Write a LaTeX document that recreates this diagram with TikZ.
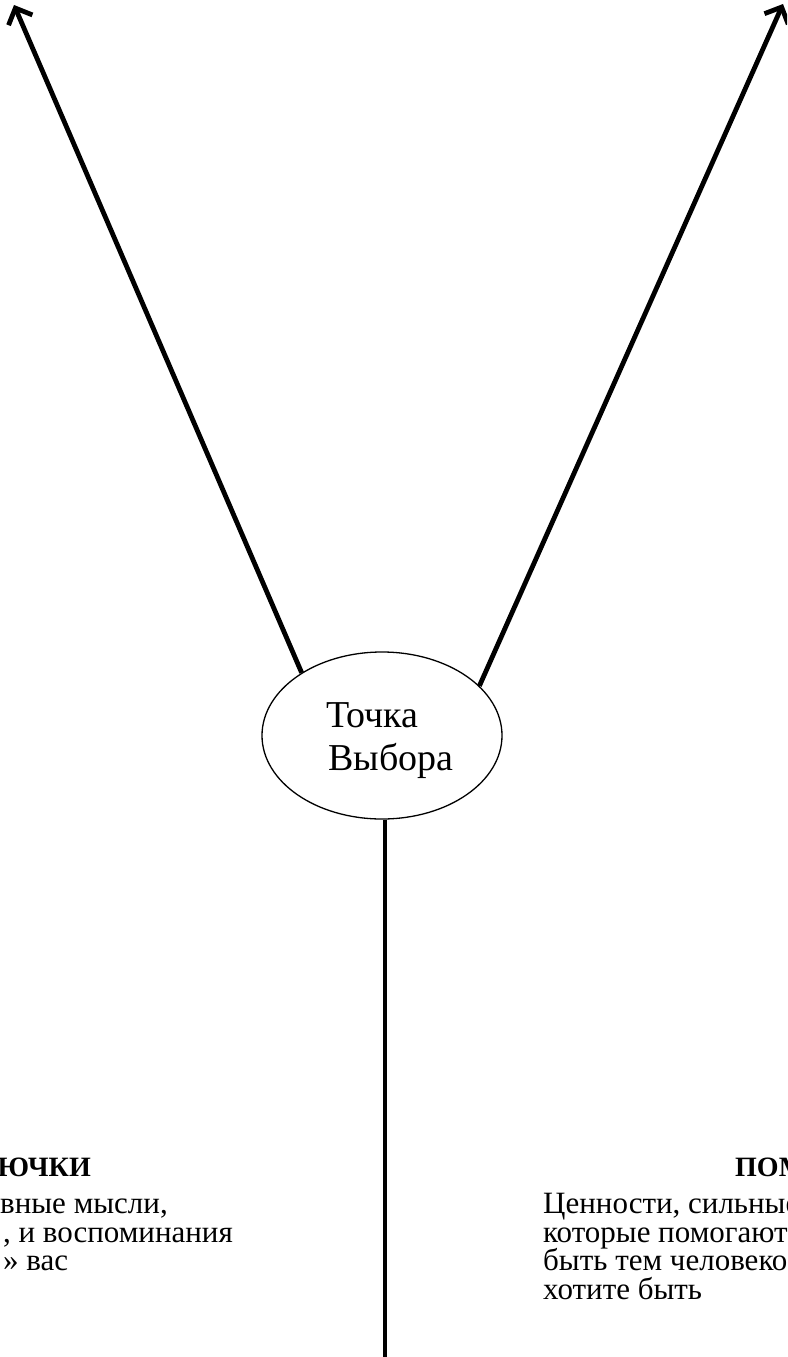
\documentclass[tikz,border=0pt]{standalone}
\usepackage{fontspec}
\setmainfont{Liberation Serif}
\usetikzlibrary{shapes.geometric,arrows.meta}

\tikzset{
  choicebox/.style={draw=black, line width=1.3pt, ellipse, inner sep=0pt,
    minimum width=240pt, minimum height=167pt},
  branch/.style={line width=4.8pt, black,
    -{Straight Barb[length=13pt,width=26pt,line width=4.8pt]}},
  trunk/.style={line width=4.8pt, black},
  bigtxt/.style={inner sep=0pt, font=\fontsize{38}{43}\selectfont},
  headtxt/.style={inner sep=0pt, font=\fontsize{28}{28}\selectfont\bfseries},
  bodytxt/.style={inner sep=0pt, font=\fontsize{31}{29}\selectfont}
}

\begin{document}
\begin{tikzpicture}[x=1pt,y=-1pt]
  \useasboundingbox (0,0) rectangle (787,1357);
  \clip (0,0) rectangle (787,1357);
  \fill[white] (0,0) rectangle (787,1357);

  % choice point
  \node[choicebox] (choice) at (382,735.5) {};
  \node[bigtxt, anchor=base west] (t1) at (326,727) {Точка};
  \node[bigtxt, anchor=base west] (t2) at (328,770) {Выбора};

  % end points of the branches
  \coordinate (tipL) at (14,5);
  \coordinate (tipR) at (783,4);
  \coordinate (root) at (385,1360);

  \draw[branch] (choice.142.5) -- (tipL);
  \draw[branch] (choice.27.5) -- (tipR);
  \draw[trunk] (choice.south -| root) -- (root);

  % left caption
  \node[headtxt, anchor=base east] (lh) at (91,1176) {ЮЧКИ};
  \node[bodytxt, anchor=base west] (l1) at (0,1213) {вные мысли,};
  \node[bodytxt, anchor=base east] (l2) at (233,1242) {, и воспоминания};
  \node[bodytxt, anchor=base west] (l3) at (3,1270) {» вас};

  % right caption
  \node[headtxt, anchor=base west] (rh) at (735,1176) {ПОМ};
  \node[bodytxt, anchor=base west] (r1) at (543,1213) {Ценности, сильные};
  \node[bodytxt, anchor=base west] (r2) at (543,1242) {которые помогают};
  \node[bodytxt, anchor=base west] (r3) at (543,1270) {быть тем человеко};
  \node[bodytxt, anchor=base west] (r4) at (543,1299) {хотите быть};
\end{tikzpicture}
\end{document}
